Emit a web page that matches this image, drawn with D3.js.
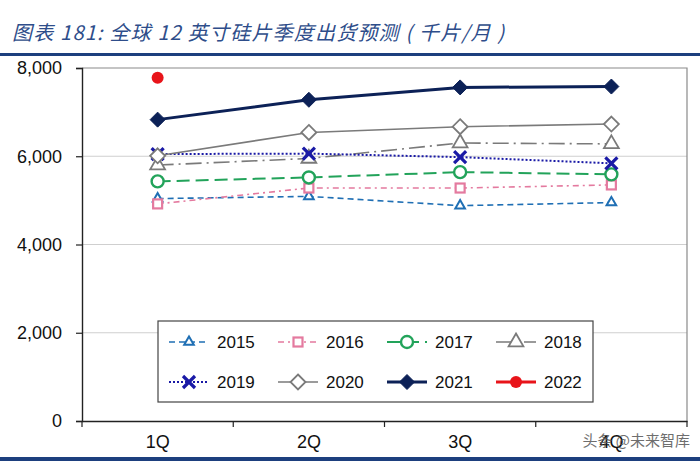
<!DOCTYPE html>
<html>
<head>
<meta charset="utf-8">
<script src="https://cdn.jsdelivr.net/npm/d3@7"></script>
<style>
  body { margin: 0; background: #fff; }
  svg { display: block; }
</style>
</head>
<body>
<svg width="700" height="461"></svg>
<script>
// quarters and series values (千片/月)
const quarters = ['1Q', '2Q', '3Q', '4Q'];
const years = ['2015', '2016', '2017', '2018', '2019', '2020', '2021', '2022'];
const v2015 = [5040, 5090, 4880, 4950];
const v2016 = [4920, 5280, 5280, 5350];
const v2017 = [5430, 5520, 5640, 5590];
const v2018 = [5800, 5950, 6300, 6280];
const v2019 = [6050, 6060, 5980, 5840];
const v2020 = [6010, 6540, 6670, 6730];
const v2021 = [6830, 7280, 7560, 7580];
const v2022 = [7780, null, null, null];
const yTicks = [0, 2000, 4000, 6000, 8000];

const seriesValues = [v2015, v2016, v2017, v2018, v2019, v2020, v2021, v2022];

// styles per year
const styles = {
  2015: { color: '#1f6fb4', width: 1.6, dash: '6,4', marker: 'triSmall' },
  2016: { color: '#e47a9f', width: 1.6, dash: '6,4,2,4', marker: 'square' },
  2017: { color: '#22a35a', width: 2, dash: '13,6', marker: 'circle' },
  2018: { color: '#7a7a7a', width: 1.6, dash: '16,5,2,5', marker: 'triangle' },
  2019: { color: '#1a1aa6', width: 2, dash: '2,2', marker: 'cross' },
  2020: { color: '#7a7a7a', width: 1.6, dash: null, marker: 'diamond' },
  2021: { color: '#0c2157', width: 3, dash: null, marker: 'diamondFill' },
  2022: { color: '#e8141a', width: 3, dash: null, marker: 'dot' }
};

const svg = d3.select('svg');
const fontFamily = '"Liberation Sans", Arial, sans-serif';

// title + rules
svg.append('text')
  .attr('x', 12)
  .attr('y', 40)
  .attr('fill', '#2e4d8a')
  .attr('font-size', 20)
  .attr('font-style', 'italic')
  .attr('letter-spacing', 1.2)
  .attr('font-family', '"Noto Sans CJK SC", sans-serif')
  .text('图表 181:  全球 12 英寸硅片季度出货预测 ( 千片/月 )');

svg.append('rect').attr('x', 0).attr('y', 53).attr('width', 700).attr('height', 3).attr('fill', '#1d3f7e');
svg.append('rect').attr('x', 0).attr('y', 457).attr('width', 700).attr('height', 4).attr('fill', '#1d3f7e');

const plotLeft = 82, plotRight = 687, plotTop = 68, plotBottom = 421;

const x = d3.scaleBand().domain(quarters).range([plotLeft, plotRight]).padding(0);
const cx = q => x(q) + x.bandwidth() / 2;
const y = d3.scaleLinear().domain([0, 8000]).range([plotBottom, plotTop]);

// gridlines
svg.append('g')
  .selectAll('line')
  .data(yTicks.filter(t => t > 0 && t < 8000))
  .join('line')
  .attr('x1', plotLeft).attr('x2', plotRight)
  .attr('y1', d => y(d)).attr('y2', d => y(d))
  .attr('stroke', '#cfcfcf').attr('stroke-width', 1);

// plot border top / right
svg.append('path')
  .attr('d', `M${plotLeft},${plotTop}H${plotRight}V${plotBottom}`)
  .attr('fill', 'none')
  .attr('stroke', '#8a8a8a')
  .attr('stroke-width', 1.2);

// y axis
const yAxis = svg.append('g')
  .attr('transform', `translate(${plotLeft},0)`)
  .call(d3.axisLeft(y).tickValues(yTicks).tickSize(6).tickPadding(14).tickFormat(d3.format(',')));
yAxis.select('.domain').attr('stroke', '#222').attr('stroke-width', 1.4);
yAxis.selectAll('.tick line').attr('stroke', '#222').attr('stroke-width', 1.2);
yAxis.selectAll('text').attr('font-size', 18).attr('font-family', fontFamily).attr('fill', '#111');

// x axis
const xAxis = svg.append('g')
  .attr('transform', `translate(0,${plotBottom})`)
  .call(d3.axisBottom(x).tickSize(0).tickPadding(14));
xAxis.select('.domain').attr('stroke', '#222').attr('stroke-width', 1.4);
xAxis.selectAll('text').attr('font-size', 18).attr('font-family', fontFamily).attr('fill', '#111');
xAxis.selectAll('.edge')
  .data(quarters.map(q => x(q)).concat([plotRight]))
  .join('line')
  .attr('class', 'edge')
  .attr('x1', d => d).attr('x2', d => d)
  .attr('y1', 0).attr('y2', 6)
  .attr('stroke', '#222').attr('stroke-width', 1.2);

// markers
function drawMarker(g, kind, color, px, py) {
  if (kind === 'triSmall') {
    g.append('path').attr('d', d3.symbol(d3.symbolTriangle, 40)())
      .attr('transform', `translate(${px},${py})`)
      .attr('fill', '#fff').attr('stroke', color).attr('stroke-width', 2);
  } else if (kind === 'triangle') {
    g.append('path').attr('d', d3.symbol(d3.symbolTriangle, 95)())
      .attr('transform', `translate(${px},${py})`)
      .attr('fill', '#fff').attr('stroke', color).attr('stroke-width', 1.8);
  } else if (kind === 'square') {
    g.append('rect').attr('x', px - 4.5).attr('y', py - 4.5).attr('width', 9).attr('height', 9)
      .attr('fill', '#fff').attr('stroke', color).attr('stroke-width', 2.2);
  } else if (kind === 'circle') {
    g.append('circle').attr('cx', px).attr('cy', py).attr('r', 6)
      .attr('fill', '#fff').attr('stroke', color).attr('stroke-width', 2.4);
  } else if (kind === 'cross') {
    g.append('path').attr('d', `M${px - 6},${py - 6}L${px + 6},${py + 6}M${px - 6},${py + 6}L${px + 6},${py - 6}`)
      .attr('stroke', color).attr('stroke-width', 3.2).attr('fill', 'none');
  } else if (kind === 'diamond') {
    g.append('path').attr('d', `M${px},${py - 7.5}L${px + 7.5},${py}L${px},${py + 7.5}L${px - 7.5},${py}Z`)
      .attr('fill', '#fff').attr('stroke', color).attr('stroke-width', 1.8);
  } else if (kind === 'diamondFill') {
    g.append('path').attr('d', `M${px},${py - 7.5}L${px + 7.5},${py}L${px},${py + 7.5}L${px - 7.5},${py}Z`)
      .attr('fill', color).attr('stroke', color).attr('stroke-width', 1);
  } else if (kind === 'dot') {
    g.append('circle').attr('cx', px).attr('cy', py).attr('r', 6).attr('fill', color);
  }
}

const line = d3.line()
  .defined(d => d.v != null)
  .x(d => cx(d.q))
  .y(d => y(d.v));

const plot = svg.append('g');
years.forEach((yr, i) => {
  const st = styles[yr];
  const pts = quarters.map((q, j) => ({ q, v: seriesValues[i][j] }));
  const g = plot.append('g');
  g.append('path')
    .datum(pts)
    .attr('d', line)
    .attr('fill', 'none')
    .attr('stroke', st.color)
    .attr('stroke-width', st.width)
    .attr('stroke-dasharray', st.dash);
  pts.filter(d => d.v != null).forEach(d => drawMarker(g, st.marker, st.color, cx(d.q), y(d.v)));
});

// legend
const legend = svg.append('g');
legend.append('rect')
  .attr('x', 158).attr('y', 321).attr('width', 435).attr('height', 81)
  .attr('fill', '#fff').attr('stroke', '#444').attr('stroke-width', 1.2);

years.forEach((yr, i) => {
  const st = styles[yr];
  const col = i % 4, row = Math.floor(i / 4);
  const lx = 169 + col * 109;
  const ly = 342 + row * 40;
  const g = legend.append('g');
  g.append('line')
    .attr('x1', lx).attr('x2', lx + 40)
    .attr('y1', ly).attr('y2', ly)
    .attr('stroke', st.color)
    .attr('stroke-width', st.width)
    .attr('stroke-dasharray', st.dash);
  drawMarker(g, st.marker, st.color, lx + 20, ly);
  g.append('text')
    .attr('x', lx + 48).attr('y', ly)
    .attr('dy', '0.35em')
    .attr('font-size', 17)
    .attr('font-family', fontFamily)
    .attr('fill', '#111')
    .text(yr);
});

// watermark (overlaps the 4Q label in the reference as well)
svg.append('text')
  .attr('x', 690).attr('y', 446)
  .attr('text-anchor', 'end')
  .attr('font-size', 15)
  .attr('font-family', '"Noto Sans CJK SC", sans-serif')
  .attr('fill', '#555')
  .attr('opacity', 0.85)
  .text('头条 @未来智库');
</script>
</body>
</html>
